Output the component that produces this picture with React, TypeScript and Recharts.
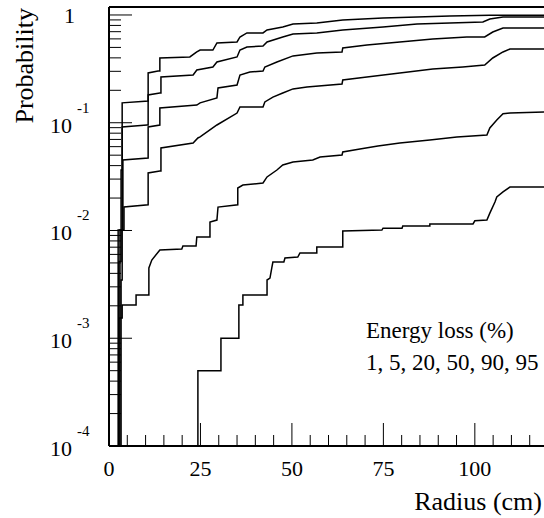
import { LineChart, Line, XAxis, YAxis, ReferenceLine } from 'recharts';

/* ------------------------------------------------------------------ */
/*  data: cumulative probability vs radius, one curve per energy loss  */
/* ------------------------------------------------------------------ */
const ENERGY_LOSS = [1, 5, 20, 50, 90, 95];

// [radius (cm), probability]
const loss1: [number, number][] = [
  [2.5, 0.0001], [2.5, 0.0101], [3.6, 0.0101], [3.6, 0.153], [10.7, 0.159],
  [10.7, 0.29], [13.4, 0.302], [13.9, 0.302], [13.9, 0.399], [22.1, 0.408],
  [24.0, 0.454], [24.9, 0.473], [28.4, 0.473], [29.5, 0.55], [35.0, 0.562],
  [35.8, 0.625], [37.7, 0.681], [42.1, 0.681], [43.2, 0.726], [47.5, 0.774],
  [50.3, 0.825], [56.8, 0.843], [63.9, 0.899], [74.9, 0.938], [84.2, 0.958],
  [93.2, 0.979], [104.1, 0.995], [120.5, 0.995],
];

const loss5: [number, number][] = [
  [2.7, 0.0001], [2.7, 0.00516], [3.3, 0.00516], [3.3, 0.0364], [3.6, 0.0364],
  [3.6, 0.0914], [10.4, 0.0953], [10.7, 0.0953], [10.7, 0.181], [13.9, 0.189],
  [14.2, 0.189], [14.2, 0.266], [23.0, 0.277], [24.0, 0.309], [28.4, 0.329],
  [29.5, 0.366], [35.0, 0.408], [35.8, 0.473], [37.7, 0.505], [42.1, 0.516],
  [43.2, 0.562], [47.5, 0.625], [50.3, 0.666], [56.8, 0.681], [63.9, 0.726],
  [74.9, 0.774], [84.2, 0.825], [93.2, 0.843], [102.2, 0.861], [104.1, 0.918],
  [107.7, 0.958], [120.5, 0.958],
];

const loss20: [number, number][] = [
  [3.0, 0.0001], [3.0, 0.0101], [3.8, 0.0101], [3.8, 0.0451], [10.7, 0.0471],
  [10.7, 0.0914], [13.9, 0.0953], [13.9, 0.137], [24.0, 0.146], [24.9, 0.153],
  [29.5, 0.17], [29.8, 0.21], [35.0, 0.224], [35.8, 0.277], [38.5, 0.296],
  [42.1, 0.302], [42.6, 0.329], [45.9, 0.366], [50.3, 0.417], [56.8, 0.444],
  [63.7, 0.454], [63.9, 0.494], [70.5, 0.527], [79.5, 0.562], [88.5, 0.599],
  [97.8, 0.625], [102.7, 0.625], [104.9, 0.695], [107.7, 0.757], [120.5, 0.757],
];

const loss50: [number, number][] = [
  [3.3, 0.0001], [3.3, 0.00347], [3.6, 0.00347], [3.6, 0.0101], [4.1, 0.0101],
  [4.1, 0.0165], [10.7, 0.0173], [10.7, 0.0342], [13.9, 0.0356], [14.2, 0.0356],
  [14.2, 0.0583], [23.0, 0.0649], [24.3, 0.0722], [24.9, 0.0738], [29.5, 0.0953],
  [35.0, 0.123], [35.8, 0.14], [42.1, 0.14], [42.6, 0.156], [44.8, 0.173],
  [47.5, 0.189], [50.3, 0.206], [54.1, 0.215], [63.7, 0.229], [63.9, 0.249],
  [70.5, 0.266], [79.5, 0.29], [88.5, 0.315], [96.7, 0.329], [102.7, 0.343],
  [104.9, 0.399], [107.7, 0.454], [109.6, 0.483], [120.5, 0.483],
];

const loss90: [number, number][] = [
  [2.7, 0.0001], [2.7, 0.00154], [3.6, 0.00154], [3.6, 0.00204], [7.4, 0.00204],
  [7.4, 0.00252], [10.9, 0.00252], [10.9, 0.00449], [11.7, 0.00532], [13.9, 0.00659],
  [19.9, 0.00673], [20.2, 0.00718], [23.8, 0.00718], [24.0, 0.0087], [27.6, 0.0087],
  [27.6, 0.012], [29.5, 0.0125], [29.8, 0.0165], [35.2, 0.0173], [35.2, 0.0248],
  [36.6, 0.0264], [42.1, 0.0276], [43.2, 0.0314], [45.9, 0.0364], [47.5, 0.0405],
  [50.3, 0.0432], [55.7, 0.0451], [57.7, 0.0481], [63.7, 0.0502], [63.9, 0.0535],
  [68.6, 0.0571], [73.5, 0.0608], [79.5, 0.0649], [87.7, 0.0692], [95.1, 0.0738],
  [103.3, 0.0769], [104.1, 0.0894], [106.0, 0.106], [107.7, 0.121], [109.6, 0.123],
  [120.5, 0.126],
];

const loss95: [number, number][] = [
  [24.3, 0.0001], [24.3, 0.0005], [30.6, 0.0005], [30.6, 0.001], [35.5, 0.001],
  [35.5, 0.00204], [36.6, 0.00204], [36.6, 0.00252], [43.2, 0.00252], [43.2, 0.00347],
  [44.0, 0.00362], [44.5, 0.00449], [44.8, 0.0051], [47.8, 0.0051], [48.1, 0.00556],
  [51.6, 0.00567], [52.2, 0.00618], [56.8, 0.00618], [56.8, 0.00703], [63.9, 0.00703],
  [63.9, 0.00989], [74.6, 0.0101], [74.9, 0.0105], [80.1, 0.0105], [80.3, 0.011],
  [87.7, 0.011], [87.7, 0.0115], [99.5, 0.0115], [100.0, 0.0123], [103.3, 0.0125],
  [104.1, 0.0145], [105.5, 0.0184], [106.0, 0.0205], [107.7, 0.0228], [109.6, 0.0253],
  [120.5, 0.0253],
];

const CURVES = [loss1, loss5, loss20, loss50, loss90, loss95];

/* ------------------------------------------------------------------ */
/*  axes                                                               */
/* ------------------------------------------------------------------ */
const X_TICKS = [0, 5, 10, 15, 20, 25, 30, 35, 40, 45, 50, 55, 60, 65, 70, 75, 80, 85, 90, 95, 100, 105, 110, 115, 120];
const X_LABELS = [0, 25, 50, 75, 100];
const Y_DECADES = [0.0001, 0.001, 0.01, 0.1, 1];
const Y_EXPONENTS = [-4, -3, -2, -1, 0];
const Y_MINOR_STEPS = [2, 3, 4, 5, 6, 7, 8, 9];
const Y_MAX = 1.186;

const Y_TICKS = [
  ...Y_DECADES,
  ...Y_DECADES.slice(0, 4).flatMap((d) => Y_MINOR_STEPS.map((m) => +(d * m).toPrecision(3))),
];

const FONT = '"Liberation Serif", "Times New Roman", serif';

function XTick({ x, y, payload }: any) {
  const major = X_LABELS.includes(payload.value);
  return (
    <g>
      <line x1={x} x2={x} y1={y} y2={y - (major ? 23 : 11)} stroke="#000" strokeWidth={1} />
      {major && (
        <text x={x} y={y + 30} textAnchor="middle" fontFamily={FONT} fontSize={22} fill="#000">
          {payload.value}
        </text>
      )}
    </g>
  );
}

function YTick({ x, y, payload }: any) {
  const idx = Y_DECADES.indexOf(payload.value);
  const major = idx >= 0;
  const exp = major ? Y_EXPONENTS[idx] : 0;
  return (
    <g>
      <line x1={x} x2={x + (major ? 23 : 12)} y1={y} y2={y} stroke="#000" strokeWidth={1} />
      {major && exp === 0 && (
        <text x={x - 34} y={y + 8} textAnchor="end" fontFamily={FONT} fontSize={22} fill="#000">
          1
        </text>
      )}
      {major && exp !== 0 && (
        <g fontFamily={FONT} fill="#000">
          <text x={x - 37} y={y + 10} textAnchor="end" fontSize={22}>
            10
          </text>
          <text x={x - 32} y={y - 10} fontSize={15}>
            {exp}
          </text>
        </g>
      )}
    </g>
  );
}

export default function App() {
  return (
    <div
      style={{
        position: 'absolute',
        left: 0,
        top: 0,
        width: 544,
        height: 518,
        overflow: 'hidden',
        background: '#fff',
      }}
    >
      <LineChart width={560} height={518} margin={{ top: 7, right: 12, left: 49, bottom: 32 }}>
        <XAxis
          type="number"
          dataKey="r"
          domain={[0, 120]}
          ticks={X_TICKS}
          interval={0}
          allowDataOverflow
          height={40}
          tickSize={0}
          tickMargin={0}
          tickLine={false}
          axisLine={{ stroke: '#000', strokeWidth: 2 }}
          tick={<XTick />}
        />
        <YAxis
          type="number"
          scale="log"
          domain={[0.0001, Y_MAX]}
          ticks={Y_TICKS}
          interval={0}
          allowDataOverflow
          width={60}
          tickSize={0}
          tickMargin={0}
          tickLine={false}
          axisLine={{ stroke: '#000', strokeWidth: 2 }}
          tick={<YTick />}
        />
        <ReferenceLine y={Y_MAX} stroke="#000" strokeWidth={2} />
        {CURVES.map((curve, i) => (
          <Line
            key={ENERGY_LOSS[i]}
            name={`${ENERGY_LOSS[i]}%`}
            data={curve.map(([r, p]) => ({ r, p }))}
            dataKey="p"
            type="linear"
            stroke="#000"
            strokeWidth={1.5}
            dot={false}
            activeDot={false}
            isAnimationActive={false}
          />
        ))}
      </LineChart>
      <svg
        width={544}
        height={518}
        style={{ position: 'absolute', left: 0, top: 0, pointerEvents: 'none' }}
        fontFamily={FONT}
        fill="#000"
      >
        <text transform="translate(33, 8) rotate(-90)" textAnchor="end" fontSize={26}>
          Probability
        </text>
        <text x={542} y={510} textAnchor="end" fontSize={26}>
          Radius (cm)
        </text>
        <text x={366} y={338} fontSize={23}>
          Energy loss (%)
        </text>
        <text x={366} y={370} fontSize={23}>
          {ENERGY_LOSS.join(', ')}
        </text>
      </svg>
    </div>
  );
}
